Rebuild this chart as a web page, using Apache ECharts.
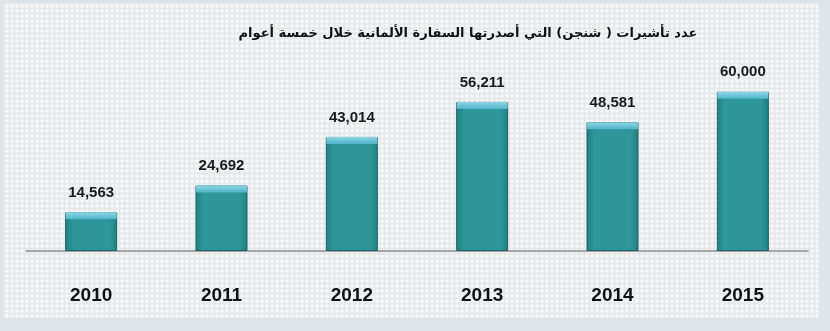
<!DOCTYPE html>
<html><head><meta charset="utf-8">
<script src="https://cdn.jsdelivr.net/npm/echarts@6/dist/echarts.min.js"></script>
<style>html,body{margin:0;padding:0;background:#fff}#c{width:830px;height:331px}</style>
</head><body><div id="c"></div>
<script>
const titleText = 'عدد تأشيرات ( شنجن) التي أصدرتها السفارة الألمانية خلال خمسة أعوام';
const years = ['2010','2011','2012','2013','2014','2015'];
const visas = [14563, 24692, 43014, 56211, 48581, 60000];

const pc = document.createElement('canvas');
pc.width = 5; pc.height = 5;
const g = pc.getContext('2d');
g.fillStyle = '#e6e8ea'; g.fillRect(0,0,5,5);
g.fillStyle = '#f8f9fa'; g.fillRect(1,1,3,3);

const chart = echarts.init(document.getElementById('c'), null, {renderer:'canvas'});
chart.setOption({
  backgroundColor: '#dde4ea',
  animation: false,
  graphic: [{
    type: 'rect', left: 4, top: 3, z: -10,
    shape: {width: 814, height: 314},
    style: {fill: {image: pc, repeat: 'repeat'}, stroke: '#e9eef2', lineWidth: 1}
  }],
  title: {
    text: titleText, left: 463, top: 22, textAlign: 'center',
    textStyle: {fontFamily: 'DejaVu Sans', fontWeight: 'bold', fontSize: 13, color: '#111'}
  },
  grid: {left: 26, right: 22, top: 60, bottom: 80, containLabel: false},
  xAxis: {
    type: 'category', data: years,
    axisLine: {lineStyle: {color: '#8a8a8a', width: 1.5}},
    axisTick: {show: false},
    axisLabel: {margin: 35, fontFamily: 'Liberation Sans', fontWeight: 'bold', fontSize: 19, color: '#111'}
  },
  yAxis: {type: 'value', min: 0, max: 72000, show: false, splitLine: {show: false}},
  series: [{
    type: 'bar', data: visas, barWidth: 52,
    itemStyle: {
      color: {type: 'linear', x: 0, y: 0, x2: 1, y2: 0, colorStops: [
        {offset: 0, color: '#237f82'}, {offset: 0.15, color: '#2e9799'},
        {offset: 0.85, color: '#2e9799'}, {offset: 1, color: '#237f82'}]},
      borderColor: '#1e5f66', borderWidth: 1
    },
    label: {
      show: true, position: 'top', distance: 12,
      fontFamily: 'Liberation Sans', fontWeight: 'bold', fontSize: 15, color: '#1a1a1a',
      formatter: p => p.value.toLocaleString('en-US')
    }
  }, {
    type: 'pictorialBar', data: visas, symbol: 'rect',
    symbolSize: [51, 7], symbolPosition: 'end', symbolOffset: [0, 0], z: 3,
    itemStyle: {color: {type: 'linear', x: 0, y: 0, x2: 0, y2: 1, colorStops: [
      {offset: 0, color: '#8fd6e6'}, {offset: 1, color: '#4fb4c8'}]}},
    silent: true
  }]
});
</script></body></html>
